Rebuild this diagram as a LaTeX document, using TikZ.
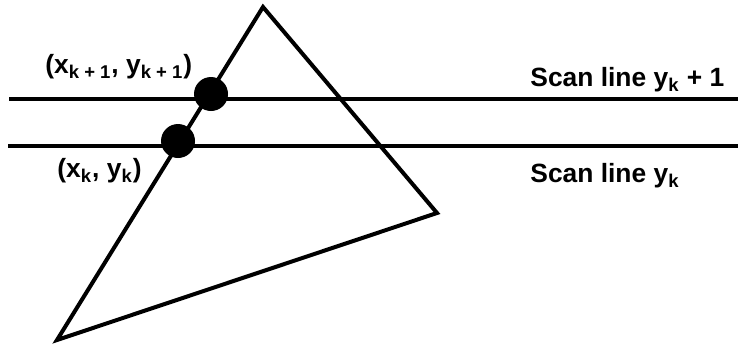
\documentclass[tikz,border=0pt]{standalone}
\usepackage{fontspec}
\setmainfont{Liberation Sans}
\usetikzlibrary{positioning}

\begin{document}
\begin{tikzpicture}[
  x=0.5pt,y=-0.5pt,
  font=\fontsize{13.2}{15}\selectfont\bfseries,
  edge/.style={draw=black,line width=2pt,line join=miter},
  scan/.style={draw=black,line width=2pt},
  dot/.style={circle,fill=black,inner sep=0pt,minimum size=17pt},
  lbl/.style={anchor=base west,inner sep=0pt}
]
\useasboundingbox (0,0) rectangle (738,343);
% triangle
\coordinate (top) at (263,7);
\coordinate (right) at (437,213);
\coordinate (low) at (57,340);
\draw[edge] (top) -- (right) -- (low) -- cycle;

% scan lines
\coordinate (s1a) at (9,99);   \coordinate (s1b) at (738,99);
\coordinate (s0a) at (8,146);  \coordinate (s0b) at (738,146);
\draw[scan] (s1a) -- (s1b);
\draw[scan] (s0a) -- (s0b);

% intersection points
\node[dot] (p1) at (211,94) {};
\node[dot] (p0) at (178,141) {};

\node[lbl] (l1) at (45,73) {(x\textsubscript{k + 1}, y\textsubscript{k + 1})};
\node[lbl] (l0) at (57,177) {(x\textsubscript{k}, y\textsubscript{k})};
\node[lbl] (t1) at (530,86) {Scan line y\textsubscript{k} + 1};
\node[lbl] (t0) at (530,182) {Scan line y\textsubscript{k}};
\end{tikzpicture}
\end{document}
